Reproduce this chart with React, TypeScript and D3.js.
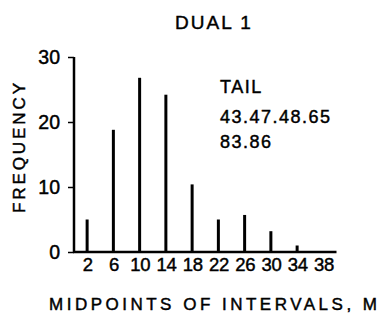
import React, { useEffect, useRef } from 'react'
import { axisBottom, axisLeft, scaleLinear, select } from 'd3'

// midpoints of intervals and their frequencies
const midpoints = [2, 6, 10, 14, 18, 22, 26, 30, 34]
const frequencies = [5, 18.8, 26.8, 24.2, 10.4, 5, 5.7, 3.2, 1]
const xTickLabels = [2, 6, 10, 14, 18, 22, 26, 30, 34, 38]
const yTickLabels = [0, 10, 20, 30]
const tailLines = ['TAIL', '43.47.48.65', '83.86']

const width = 388
const height = 315
const FONT = '"Liberation Sans", Arial, Helvetica, sans-serif'

// thicken glyphs a bit, the scanned original is heavy
const heavy = (sel: any) => sel
    .attr('font-family', FONT)
    .attr('fill', '#000')
    .attr('stroke', '#000')
    .attr('stroke-width', 0.45)

export default function App() {
    const svgEl = useRef<SVGSVGElement | null>(null)

    useEffect(() => {
        const svg = select(svgEl.current)
        svg.selectAll('*').remove()

        const x = scaleLinear().domain([0, 40]).range([74, 336.5])
        const y = scaleLinear().domain([0, 30]).range([252, 57])

        // X axis (labels only, line drawn below)
        const xAxisGroup = svg.append('g')
            .attr('transform', `translate(0, ${y(0)})`)
            .call(axisBottom(x).tickValues(xTickLabels).tickSize(0).tickPadding(4).tickFormat((d) => String(d)))
        xAxisGroup.select('.domain').remove()
        xAxisGroup.selectAll('text')
            .call(heavy)
            .attr('font-size', 18.5)
            .attr('letter-spacing', -0.5)
            .attr('dy', '0.8em')

        // Y axis
        const yAxisGroup = svg.append('g')
            .attr('transform', `translate(${x(0)}, 0)`)
            .call(axisLeft(y).tickValues(yTickLabels).tickSize(6).tickSizeOuter(0).tickPadding(8))
        yAxisGroup.select('.domain').remove()
        yAxisGroup.selectAll('line')
            .attr('stroke', '#000')
            .attr('stroke-width', 1.5)
        yAxisGroup.selectAll('text')
            .call(heavy)
            .attr('font-size', 19.5)

        // axis lines
        svg.append('line')
            .attr('x1', x(0)).attr('x2', x(0))
            .attr('y1', y(0)).attr('y2', y(30))
            .attr('stroke', '#000')
            .attr('stroke-width', 2.5)
        svg.append('line')
            .attr('x1', x(0) - 1).attr('x2', x(40))
            .attr('y1', y(0)).attr('y2', y(0))
            .attr('stroke', '#000')
            .attr('stroke-width', 2.5)

        // spikes
        svg.append('g')
            .selectAll('line')
            .data(midpoints)
            .enter()
            .append('line')
            .attr('x1', (d) => x(d))
            .attr('x2', (d) => x(d))
            .attr('y1', y(0))
            .attr('y2', (d, i) => y(frequencies[i]))
            .attr('stroke', '#000')
            .attr('stroke-width', 3)

        // title
        svg.append('text')
            .call(heavy)
            .attr('x', 214)
            .attr('y', 29)
            .attr('text-anchor', 'middle')
            .attr('font-size', 19)
            .attr('letter-spacing', 2)
            .text('DUAL 1')

        // tail annotation
        svg.append('g')
            .selectAll('text')
            .data(tailLines)
            .enter()
            .append('text')
            .call(heavy)
            .attr('x', 220)
            .attr('y', (d, i) => [93, 123, 148][i])
            .attr('font-size', 18)
            .attr('letter-spacing', 1.5)
            .text((d) => d)

        // axis titles
        svg.append('text')
            .call(heavy)
            .attr('x', 213)
            .attr('y', 310)
            .attr('text-anchor', 'middle')
            .attr('font-size', 17)
            .attr('textLength', 328)
            .attr('lengthAdjust', 'spacing')
            .text('MIDPOINTS OF INTERVALS, M')
        svg.append('text')
            .call(heavy)
            .attr('transform', 'translate(25, 148) rotate(-90)')
            .attr('text-anchor', 'middle')
            .attr('font-size', 17)
            .attr('textLength', 130)
            .attr('lengthAdjust', 'spacing')
            .text('FREQUENCY')
    }, [])

    return (
        <svg
            ref={svgEl}
            width={width}
            height={height}
            style={{ position: 'absolute', left: 0, top: 0, background: '#fff' }}
        />
    )
}
